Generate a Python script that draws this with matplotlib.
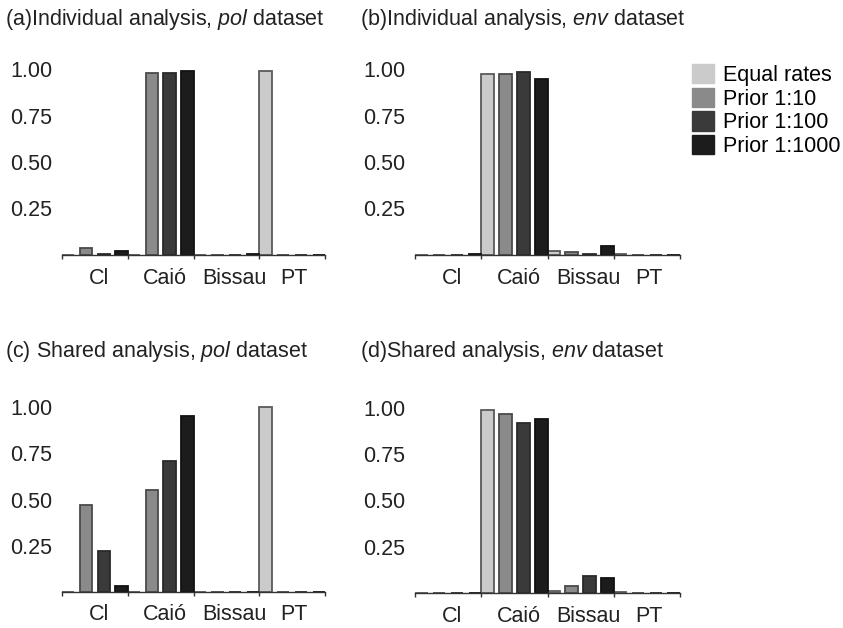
import matplotlib
matplotlib.use("Agg")
import matplotlib.pyplot as plt
from matplotlib.patches import Patch
import numpy as np

plt.rcParams["font.family"] = ["Liberation Sans", "DejaVu Sans"]
plt.rcParams["mathtext.fontset"] = "custom"
plt.rcParams["mathtext.rm"] = "Liberation Sans"
plt.rcParams["mathtext.it"] = "Liberation Sans:italic"

# %% data
groups = ["Cl", "Caió", "Bissau", "PT"]
series = ["Equal rates", "Prior 1:10", "Prior 1:100", "Prior 1:1000"]
colors = ["#cbcbcb", "#8a8a8a", "#3a3a3a", "#1c1c1c"]
edges = ["#5a5a5a", "#4a4a4a", "#2a2a2a", "#111111"]

# (a) individual analysis, pol dataset
a_equal = [0.0, 0.0, 0.0, 0.99]
a_p10 = [0.04, 0.98, 0.0, 0.0]
a_p100 = [0.005, 0.98, 0.0, 0.0]
a_p1000 = [0.02, 0.99, 0.005, 0.0]

# (b) individual analysis, env dataset
b_equal = [0.002, 0.975, 0.02, 0.004]
b_p10 = [0.002, 0.975, 0.015, 0.0]
b_p100 = [0.002, 0.985, 0.006, 0.0]
b_p1000 = [0.003, 0.945, 0.05, 0.0]

# (c) shared analysis, pol dataset
c_equal = [0.0, 0.0, 0.0, 1.0]
c_p10 = [0.47, 0.55, 0.0, 0.0]
c_p100 = [0.22, 0.71, 0.0, 0.0]
c_p1000 = [0.03, 0.95, 0.0, 0.0]

# (d) shared analysis, env dataset
d_equal = [0.002, 0.99, 0.01, 0.004]
d_p10 = [0.002, 0.97, 0.04, 0.0]
d_p100 = [0.002, 0.92, 0.09, 0.0]
d_p1000 = [0.002, 0.94, 0.08, 0.0]

yticks = [0.25, 0.50, 0.75, 1.00]
ytick_labels = ["0.25", "0.50", "0.75", "1.00"]

panels = [
    ("(a)Individual analysis, $\\mathit{pol}$ dataset", [a_equal, a_p10, a_p100, a_p1000]),
    ("(b)Individual analysis, $\\mathit{env}$ dataset", [b_equal, b_p10, b_p100, b_p1000]),
    ("(c) Shared analysis, $\\mathit{pol}$ dataset", [c_equal, c_p10, c_p100, c_p1000]),
    ("(d)Shared analysis, $\\mathit{env}$ dataset", [d_equal, d_p10, d_p100, d_p1000]),
]

# %% layout (pixels of an 843x628 figure)
W, H = 843, 628
fig = plt.figure(figsize=(W / 100, H / 100), dpi=100)

top = 1.03
axes_px = [  # left, right, baseline, px per unit
    (62, 325, 255, 186),
    (415, 680, 255, 186),
    (62, 325, 592, 185),
    (415, 680, 593, 185),
]
title_px = [(5, 19), (360, 19), (5, 352), (360, 352)]

step = 0.27
width = 0.19
label_pos = [0.56, 1.57, 2.62, 3.53]

for (title, vals), (l, r, base, unit), (tx, ty) in zip(panels, axes_px, title_px):
    h = top * unit
    ax = fig.add_axes([l / W, (H - base) / H, (r - l) / W, h / H])
    x = np.arange(len(groups))
    for j, v in enumerate(vals):
        ax.bar(x + j * step, v, width=width, align="edge",
               color=colors[j], edgecolor=edges[j], linewidth=1.3)
    ax.set_xlim(0, len(groups))
    ax.set_ylim(0, top)
    for s in ["top", "right", "left"]:
        ax.spines[s].set_visible(False)
    ax.spines["bottom"].set_color("#333333")
    ax.spines["bottom"].set_linewidth(1.0)
    ax.set_yticks(yticks)
    ax.set_yticklabels(ytick_labels)
    ax.tick_params(axis="y", length=0, pad=7, labelsize=15.5, labelcolor="#222222")
    ax.set_xticks(range(len(groups) + 1))
    ax.set_xticklabels([])
    ax.tick_params(axis="x", which="major", length=3, width=1, color="#333333",
                   direction="out")
    ax.set_xticks(label_pos, minor=True)
    ax.set_xticklabels(groups, minor=True)
    ax.tick_params(axis="x", which="minor", length=0, pad=9, labelsize=15.5,
                   labelcolor="#222222")
    fig.text(tx / W, 1 - ty / H, title, fontsize=15.5, color="#222222",
             ha="left", va="center")

handles = [Patch(facecolor=c, edgecolor=c) for c in colors]
fig.legend(handles, series, loc="upper left", bbox_to_anchor=(692 / W, 1 - 64 / H),
           frameon=False, fontsize=15.5, handlelength=1.0, handleheight=1.0,
           handletextpad=0.45, labelspacing=0.08, borderpad=0, borderaxespad=0)

fig.savefig("out.png", dpi=100)
